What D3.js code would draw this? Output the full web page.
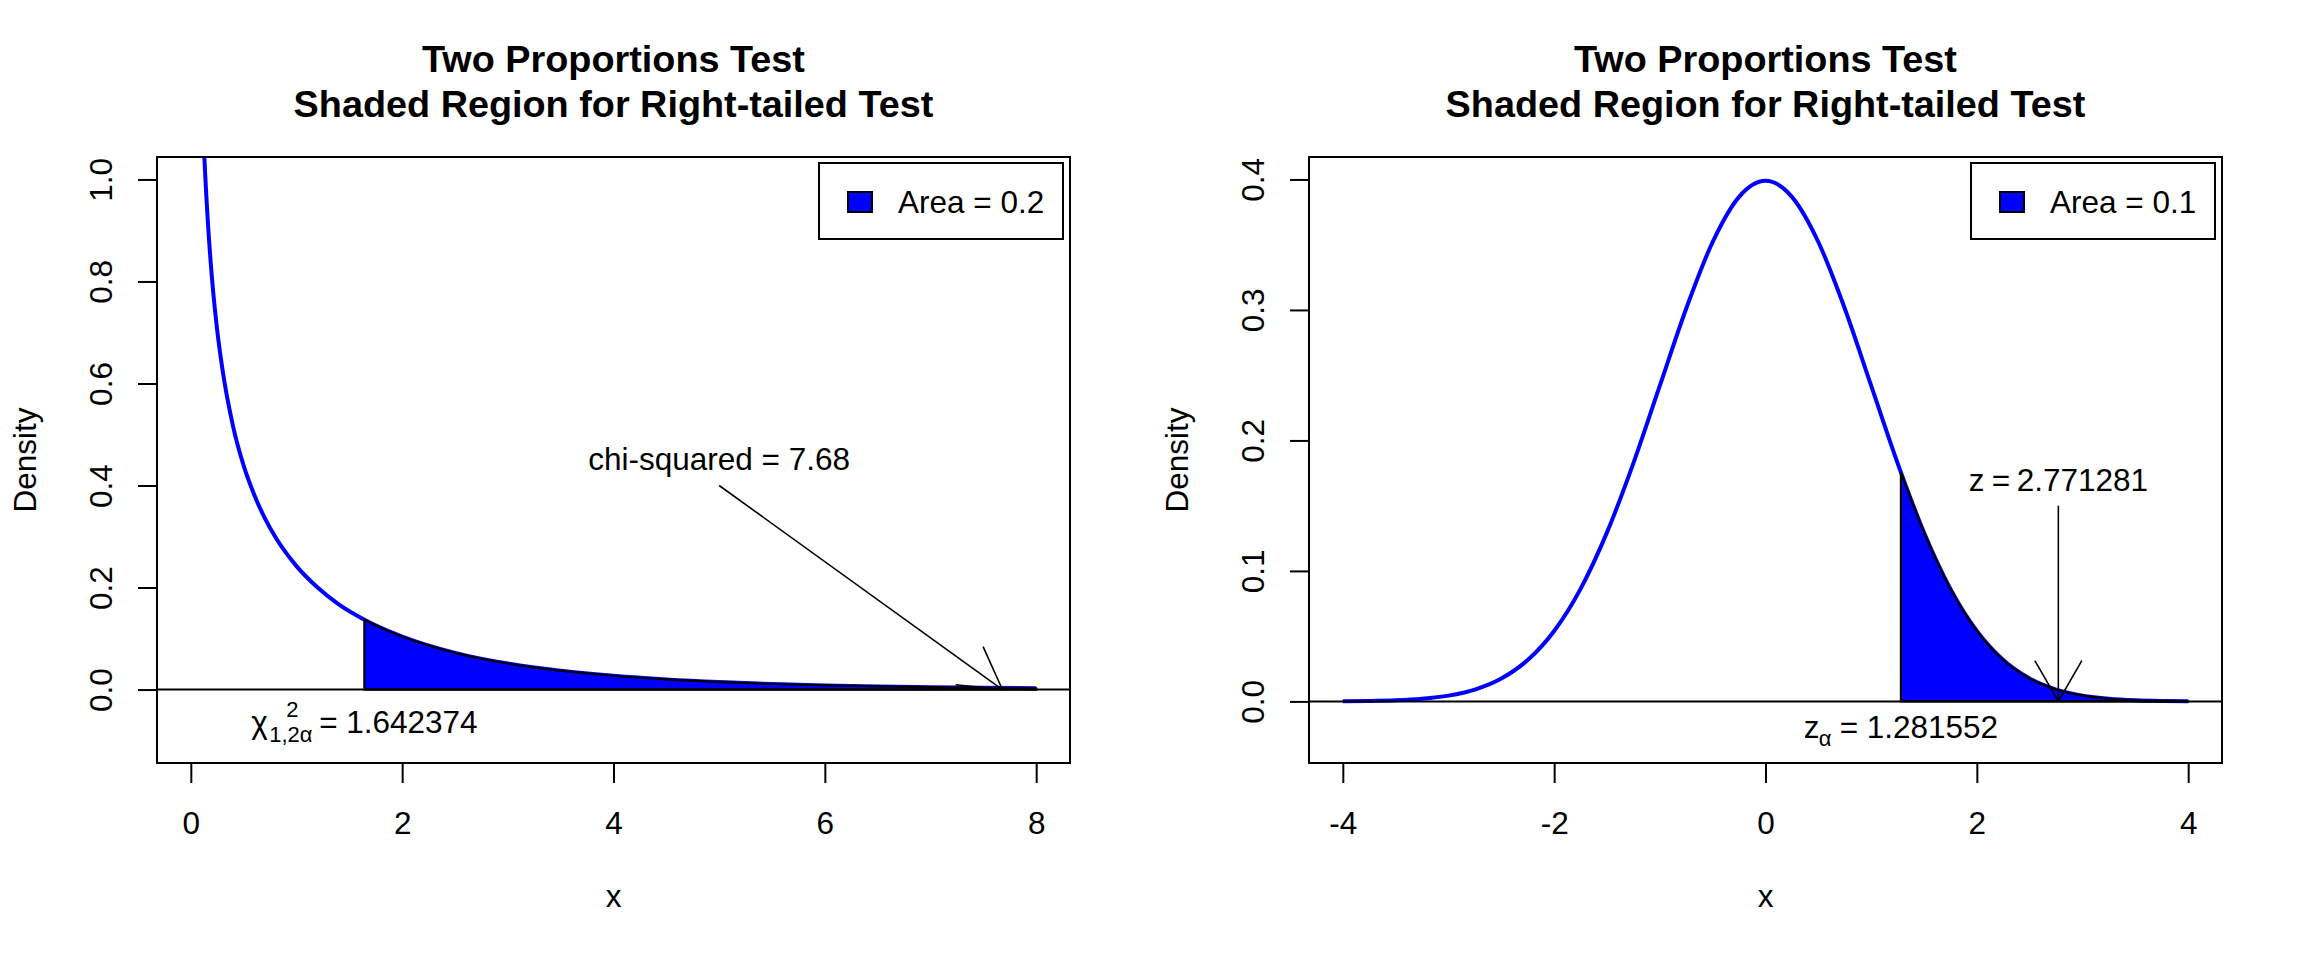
<!DOCTYPE html>
<html>
<head>
<meta charset="utf-8">
<script src="https://cdn.jsdelivr.net/npm/d3@7"></script>
<style>
body { margin: 0; background: #fff; }
text { font-family: "Liberation Sans", Arial, sans-serif; fill: #000; }
</style>
</head>
<body>
<div id="chart"></div>
<script>
// values

var titleLines = ["Two Proportions Test", "Shaded Region for Right-tailed Test"];

// left panel: chi-squared density, df = 1
var chiX = [0.08, 0.12, 0.16, 0.2, 0.25, 0.3, 0.4, 0.5, 0.6, 0.7, 0.8, 1.0, 1.2, 1.4, 1.642374,
	1.8, 2.0, 2.5, 3.0, 3.5, 4.0, 4.5, 5.0, 5.5, 6.0, 6.5, 7.0, 7.5, 8.0];
var chiY = [1.355, 1.085, 0.921, 0.807, 0.704, 0.627, 0.516, 0.439, 0.382, 0.336, 0.299, 0.242, 0.200, 0.167, 0.137,
	0.121, 0.104, 0.072, 0.051, 0.037, 0.027, 0.0198, 0.0146, 0.0109, 0.0081, 0.0061, 0.0046, 0.0034, 0.0026];
var chiXLim = [0, 8];
var chiYLim = [-0.1, 1];
var chiXTicks = [0, 2, 4, 6, 8];
var chiYTicks = [0, 0.2, 0.4, 0.6, 0.8, 1.0];
var chiCritical = 1.642374;
var chiLegend = "Area = 0.2";
var chiStatLabel = "chi-squared = 7.68";
var chiStatText = [5, 0.45];
var chiArrow = [5, 0.4, 7.68, 0];
var chiCritText = [1.642374, -0.065];

// right panel: standard normal density
var zX = [-4, -3.75, -3.5, -3.25, -3, -2.75, -2.5, -2.25, -2, -1.75, -1.5, -1.25, -1, -0.75, -0.5, -0.25,
	0, 0.25, 0.5, 0.75, 1.0, 1.25, 1.281552, 1.5, 1.75, 2.0, 2.25, 2.5, 2.75, 3.0, 3.25, 3.5, 3.75, 4.0];
var zY = [0.000134, 0.000353, 0.000873, 0.002029, 0.004432, 0.009094, 0.017528, 0.031740, 0.053991, 0.086277,
	0.129518, 0.182649, 0.241971, 0.301137, 0.352065, 0.386668, 0.398942, 0.386668, 0.352065, 0.301137,
	0.241971, 0.182649, 0.175498, 0.129518, 0.086277, 0.053991, 0.031740, 0.017528, 0.009094, 0.004432,
	0.002029, 0.000873, 0.000353, 0.000134];
var zXLim = [-4, 4];
var zYLim = [-0.03, 0.4];
var zXTicks = [-4, -2, 0, 2, 4];
var zYTicks = [0, 0.1, 0.2, 0.3, 0.4];
var zCritical = 1.281552;
var zLegend = "Area = 0.1";
var zStatText = [2.771281, 0.17];
var zArrow = [2.771281, 0.15, 2.771281, 0];
var zCritText = [1.281552, -0.02];

var W = 2304, H = 960, panelW = 1152;
var box = { left: 157, right: 1070, top: 157, bottom: 763 };
var fs = 31.5;
var svg;

function ext(lim) {
	// R pads the axis range by 4% on each side
	var r = lim[1] - lim[0];
	return [lim[0] - 0.04 * r, lim[1] + 0.04 * r];
}

function init() {
	svg = d3.select("#chart")
		.append("svg")
		.attr("width", W)
		.attr("height", H);

	var left = svg.append("g");
	var leftP = drawPanel(left, "c0", chiX, chiY, chiXLim, chiYLim, chiXTicks, chiYTicks, chiCritical, chiLegend);

	// chi-squared annotations
	left.append("text")
		.text(chiStatLabel)
		.attr("x", leftP.x(chiStatText[0]))
		.attr("y", leftP.y(chiStatText[1]))
		.attr("dy", "0.33em")
		.attr("text-anchor", "middle")
		.attr("font-size", fs);
	drawArrow(left, leftP.x(chiArrow[0]), leftP.y(chiArrow[1]), leftP.x(chiArrow[2]), leftP.y(chiArrow[3]));
	drawExpr(left, leftP.x(chiCritText[0]), leftP.y(chiCritText[1]) + 10, [
		{ t: "χ", dx: 0, dy: 0, s: fs },
		{ t: "1,2α", dx: 18, dy: 9, s: 22 },
		{ t: "2", dx: 35, dy: -16, s: 22 },
		{ t: "=", dx: 68, dy: 0, s: fs },
		{ t: "1.642374", dx: 95, dy: 0, s: fs }
	]);

	var right = svg.append("g").attr("transform", "translate(" + panelW + ",0)");
	var rightP = drawPanel(right, "c1", zX, zY, zXLim, zYLim, zXTicks, zYTicks, zCritical, zLegend);

	drawArrow(right, rightP.x(zArrow[0]), rightP.y(zArrow[1]), rightP.x(zArrow[2]), rightP.y(zArrow[3]));
	drawExpr(right, rightP.x(zStatText[0]), rightP.y(zStatText[1]) + 11, [
		{ t: "z", dx: 0, dy: 0, s: fs },
		{ t: "=", dx: 23, dy: 0, s: fs },
		{ t: "2.771281", dx: 48, dy: 0, s: fs }
	]);
	drawExpr(right, rightP.x(zCritText[0]), rightP.y(zCritText[1]) + 10, [
		{ t: "z", dx: 0, dy: 0, s: fs },
		{ t: "α", dx: 15, dy: 8, s: 22 },
		{ t: "=", dx: 36, dy: 0, s: fs },
		{ t: "1.281552", dx: 63, dy: 0, s: fs }
	]);
}

function drawPanel(g, clipId, xs, ys, xLim, yLim, xTicks, yTicks, crit, legendText) {
	var x = d3.scaleLinear().domain(ext(xLim)).range([box.left, box.right]);
	var y = d3.scaleLinear().domain(ext(yLim)).range([box.bottom, box.top]);
	var pts = xs.map(function(d, i) { return [d, ys[i]]; });

	g.append("clipPath").attr("id", clipId)
		.append("rect")
		.attr("x", box.left).attr("y", box.top)
		.attr("width", box.right - box.left).attr("height", box.bottom - box.top);

	var plot = g.append("g").attr("clip-path", "url(#" + clipId + ")");

	var line = d3.line()
		.x(function(d) { return x(d[0]); })
		.y(function(d) { return y(d[1]); })
		.curve(d3.curveMonotoneX);

	// density curve
	plot.append("path")
		.datum(pts)
		.attr("d", line)
		.attr("fill", "none")
		.attr("stroke", "#0000ff")
		.attr("stroke-width", 4);

	// shaded tail
	var tail = pts.filter(function(d) { return d[0] >= crit; });
	var area = d3.area()
		.x(function(d) { return x(d[0]); })
		.y0(y(0))
		.y1(function(d) { return y(d[1]); })
		.curve(d3.curveMonotoneX);
	plot.append("path")
		.datum(tail)
		.attr("d", function(d) { return area(d) + "Z"; })
		.attr("fill", "#0000ff")
		.attr("stroke", "#000")
		.attr("stroke-width", 2.2);

	// horizontal line at zero
	plot.append("line")
		.attr("x1", box.left).attr("x2", box.right)
		.attr("y1", y(0)).attr("y2", y(0))
		.attr("stroke", "#000")
		.attr("stroke-width", 2);

	// axes (plain hyphen for negatives, like R)
	var xAxis = g.append("g")
		.attr("transform", "translate(0," + box.bottom + ")")
		.call(d3.axisBottom(x).tickValues(xTicks).tickSize(20).tickSizeOuter(0)
			.tickFormat(function(d) { return String(d); }));
	xAxis.select(".domain").remove();
	xAxis.selectAll("line").attr("stroke-width", 2);
	xAxis.selectAll("text")
		.attr("y", 71).attr("dy", 0)
		.attr("font-size", fs)
		.attr("font-family", "Liberation Sans, Arial, sans-serif");

	var yAxis = g.append("g")
		.attr("transform", "translate(" + box.left + ",0)")
		.call(d3.axisLeft(y).tickValues(yTicks).tickSize(19).tickSizeOuter(0)
			.tickFormat(function(d) { return d.toFixed(1); }));
	yAxis.select(".domain").remove();
	yAxis.selectAll("line").attr("stroke-width", 2);
	yAxis.selectAll("text")
		.attr("x", 0).attr("dy", 0)
		.attr("text-anchor", "middle")
		.attr("transform", "translate(-45,0) rotate(-90)")
		.attr("font-size", fs)
		.attr("font-family", "Liberation Sans, Arial, sans-serif");

	// frame
	g.append("rect")
		.attr("x", box.left).attr("y", box.top)
		.attr("width", box.right - box.left).attr("height", box.bottom - box.top)
		.attr("fill", "none")
		.attr("stroke", "#000")
		.attr("stroke-width", 2);

	// titles
	var cx = (box.left + box.right) / 2;
	titleLines.forEach(function(t, i) {
		g.append("text")
			.text(t)
			.attr("x", cx)
			.attr("y", 72 + i * 45)
			.attr("text-anchor", "middle")
			.attr("font-weight", "bold")
			.attr("font-size", 37.8);
	});

	g.append("text")
		.text("x")
		.attr("x", cx)
		.attr("y", 907)
		.attr("text-anchor", "middle")
		.attr("font-size", fs);

	g.append("text")
		.text("Density")
		.attr("transform", "translate(36," + ((box.top + box.bottom) / 2) + ") rotate(-90)")
		.attr("text-anchor", "middle")
		.attr("font-size", fs);

	// legend
	g.append("rect")
		.attr("x", 819).attr("y", 163)
		.attr("width", 244).attr("height", 76)
		.attr("fill", "#fff")
		.attr("stroke", "#000")
		.attr("stroke-width", 2);
	g.append("rect")
		.attr("x", 848).attr("y", 192)
		.attr("width", 24).attr("height", 20)
		.attr("fill", "#0000ff")
		.attr("stroke", "#000")
		.attr("stroke-width", 2);
	g.append("text")
		.text(legendText)
		.attr("x", 898)
		.attr("y", 213)
		.attr("font-size", fs);

	return { x: x, y: y };
}

function drawArrow(g, x0, y0, x1, y1) {
	var len = 47;
	var ang = Math.atan2(y0 - y1, x0 - x1);
	g.append("line")
		.attr("x1", x0).attr("y1", y0).attr("x2", x1).attr("y2", y1)
		.attr("stroke", "#000").attr("stroke-width", 1.6);
	[-Math.PI / 6, Math.PI / 6].forEach(function(a) {
		g.append("line")
			.attr("x1", x1).attr("y1", y1)
			.attr("x2", x1 + len * Math.cos(ang + a))
			.attr("y2", y1 + len * Math.sin(ang + a))
			.attr("stroke", "#000").attr("stroke-width", 1.6);
	});
}

// plotmath-like label, centred on cx with main baseline at by
function drawExpr(g, cx, by, pieces) {
	var e = g.append("g");
	pieces.forEach(function(p) {
		e.append("text")
			.text(p.t)
			.attr("x", p.dx)
			.attr("y", p.dy)
			.attr("font-size", p.s);
	});
	var bb = e.node().getBBox();
	e.attr("transform", "translate(" + (cx - (bb.x + bb.width / 2)) + "," + by + ")");
}

init();
</script>
</body>
</html>
